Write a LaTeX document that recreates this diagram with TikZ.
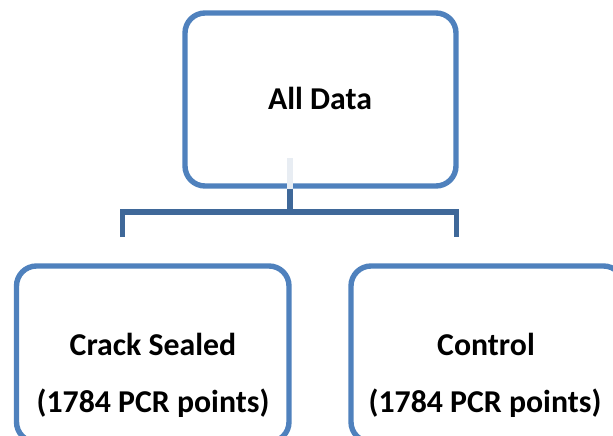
\documentclass[tikz,border=0pt]{standalone}
\usepackage{fontspec}
\setmainfont{Carlito}
\definecolor{boxblue}{HTML}{4F81BD}
\definecolor{linkblue}{HTML}{3F6899}
\definecolor{faintblue}{HTML}{E8EDF3}
\begin{document}
\begin{tikzpicture}[x=1pt,y=-1pt,
  card/.style={draw=boxblue, line width=5.4pt, rounded corners=20pt, rectangle, inner sep=0pt},
  label/.style={anchor=base, inner sep=0pt, font=\bfseries\fontsize{31.8}{36}\selectfont},
  link/.style={draw=linkblue, line width=5.3pt, line join=miter}]
\useasboundingbox (0,0) rectangle (613,436);
\node[card, minimum width=271pt, minimum height=173pt] (top) at (320.5,99.5) {};
\node[card, minimum width=272.5pt, minimum height=176pt] (left) at (152.75,354) {};
\node[card, minimum width=272.5pt, minimum height=176pt] (right) at (487.25,354) {};
\node[label] (alldata) at (320,109) {All Data};
\node[label] (ltitle) at (153,355) {Crack Sealed};
\node[label] (lsub) at (153,412) {(1784 PCR points)};
\node[label] (rtitle) at (486,355) {Control};
\node[label] (rsub) at (485,412) {(1784 PCR points)};
\coordinate (faint) at (290,158);
\coordinate (stem) at (290,212);
\coordinate (lbus) at (122.7,212);
\coordinate (rbus) at (456.7,212);
\coordinate (lend) at (122.7,237);
\coordinate (rend) at (456.7,237);
\draw[draw=faintblue, line width=5.3pt] (faint) -- (faint |- top.south);
\draw[link] (stem |- top.south) -- (stem);
\draw[link] (lend) -- (lbus) -- (rbus) -- (rend);
\end{tikzpicture}
\end{document}
